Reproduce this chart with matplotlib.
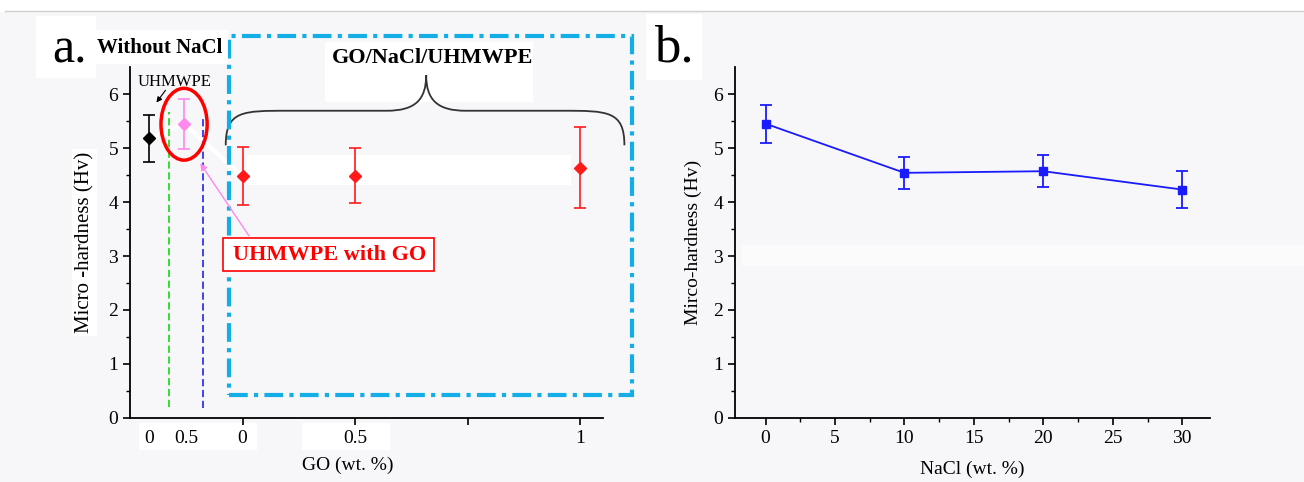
import matplotlib
matplotlib.use('Agg')
import matplotlib.pyplot as plt
from matplotlib.patches import Rectangle, Ellipse, PathPatch
from matplotlib.path import Path
import numpy as np

plt.rcParams['font.family'] = ['Liberation Serif', 'DejaVu Serif']

# panel a: hardness without NaCl (pure, with GO) and GO/NaCl/UHMWPE
pure_x, pure_y, pure_err = [-0.83], [5.18], [0.43]
go_x, go_y, go_err = [-0.52], [5.45], [0.46]
mix_x = [0, 1, 3]
mix_y = [4.48, 4.49, 4.63]
mix_err = [0.53, 0.51, 0.75]
a_tick_pos = [-0.83, -0.5, 0, 1, 3]
a_tick_lab = ['0', '0.5', '0', '0.5', '1']

# panel b: hardness vs NaCl content
nacl = [0, 10, 20, 30]
hard_b = [5.45, 4.54, 4.57, 4.23]
err_b = [0.35, 0.30, 0.30, 0.35]

W, H = 1304, 482
bg = '#f7f7f9'
fig = plt.figure(figsize=(W / 100, H / 100), dpi=100, facecolor='white')

def fbox(x0, y0, x1, y1, color='white', z=0):
    # rectangle in pixel coords of the figure (y down)
    fig.patches.append(Rectangle((x0 / W, 1 - y1 / H), (x1 - x0) / W, (y1 - y0) / H,
                                 transform=fig.transFigure, facecolor=color,
                                 edgecolor='none', zorder=z))

fbox(0, 12, W, H, bg, z=-10)
fig.add_artist(plt.Line2D([5 / W, 1], [1 - 11 / H] * 2, transform=fig.transFigure,
                          color='#cfcfcf', lw=1))
fbox(36, 16, 96, 78)
fbox(96, 30, 228, 64)
fbox(646, 14, 702, 80)
fbox(742, 245, W, 266, '#fbfbfc', z=-5)

ax = fig.add_axes([130 / W, 1 - 418 / H, (603 - 130) / W, (418 - 67) / H])
ax.set_facecolor('none')
ax.set_xlim(-1.0, 3.2)
ax.set_ylim(0, 6.5)
for s in ['top', 'right']:
    ax.spines[s].set_visible(False)
for s in ['left', 'bottom']:
    ax.spines[s].set_linewidth(1.3)
ax.set_yticks(range(7))
ax.set_yticks(np.arange(0.5, 6.5, 1), minor=True)
ax.set_xticks([0, 1, 2, 3])
ax.set_xticklabels([])
ax.tick_params(axis='both', direction='out', length=5, width=1.2, labelsize=14)
ax.tick_params(which='minor', length=3, width=1)
# white patches behind the rewritten tick labels
ax.add_patch(Rectangle((-0.92, -0.59), 1.05, 0.5, facecolor='white', edgecolor='none',
                       clip_on=False, zorder=1))
ax.add_patch(Rectangle((0.53, -0.59), 0.78, 0.5, facecolor='white', edgecolor='none',
                       clip_on=False, zorder=1))
for xp, lab in zip(a_tick_pos, a_tick_lab):
    ax.text(xp, -0.22, lab, ha='center', va='top', fontsize=14, clip_on=False, zorder=2)
ax.set_xlabel('GO (wt. %)', fontsize=14)
ax.xaxis.set_label_coords(0.46, -0.11)
ax.set_ylabel('Micro -hardness (Hv)', fontsize=15, labelpad=10,
              bbox=dict(facecolor='white', edgecolor='none', pad=2))

# white band and white trace of the former connecting line
ax.add_patch(Rectangle((0.04, 4.31), 2.88, 0.56, facecolor='white', edgecolor='none', zorder=1))
ax.plot(pure_x + go_x + mix_x[:1], pure_y + go_y + mix_y[:1], color='white', lw=3, zorder=2)

ax.plot([-0.65, -0.65], [0.2, 5.67], color='#22dd22', lw=1.3, ls=(0, (4, 2)), zorder=3)
ax.plot([-0.35, -0.35], [0.18, 5.6], color='#3333ee', lw=1.3, ls=(0, (4, 2)), zorder=3)

ax.errorbar(pure_x, pure_y, yerr=pure_err, fmt='D', color='black', ms=6, capsize=4,
            elinewidth=1.2, capthick=1.2, zorder=5)
ax.errorbar(go_x, go_y, yerr=go_err, fmt='D', color='#ff88ee', ms=6, capsize=4,
            elinewidth=1.2, capthick=1.2, zorder=5)
ax.errorbar(mix_x, mix_y, yerr=mix_err, fmt='D', color='#ff1a1a', ms=6, capsize=4,
            elinewidth=1.2, capthick=1.2, ls='none', zorder=5)

ax.add_patch(Ellipse((-0.52, 5.44), 0.41, 1.33, fill=False, edgecolor='red', lw=2.5,
                     zorder=6, clip_on=False))

# cyan dash-dot frame round the NaCl samples
ax.add_patch(Rectangle((-0.125, 0.43), 3.585, 6.64, fill=False, edgecolor='#14aee6',
                       lw=3, ls=(0, (4.5, 1.5, 1, 1.5)), clip_on=False, zorder=4))

# white box behind the group title and the brace
ax.add_patch(Rectangle((0.73, 5.86), 1.85, 1.1, facecolor='white', edgecolor='none',
                       clip_on=False, zorder=1))
x0, x1, xc = -0.15, 3.39, 1.63
y0, ya, yt = 5.05, 5.69, 6.35
verts = [(x0, y0), (x0, ya), (x0 + 0.15, ya), (x0 + 0.55, ya),
         (xc - 0.35, ya),
         (xc - 0.1, ya), (xc, ya + 0.2), (xc, yt),
         (xc, ya + 0.2), (xc + 0.1, ya), (xc + 0.35, ya),
         (x1 - 0.55, ya),
         (x1 - 0.15, ya), (x1, ya), (x1, y0)]
codes = [Path.MOVETO, Path.CURVE4, Path.CURVE4, Path.CURVE4, Path.LINETO,
         Path.CURVE4, Path.CURVE4, Path.CURVE4, Path.CURVE4, Path.CURVE4, Path.CURVE4,
         Path.LINETO, Path.CURVE4, Path.CURVE4, Path.CURVE4]
ax.add_patch(PathPatch(Path(verts, codes), fill=False, edgecolor='#333333', lw=1.3,
                       clip_on=False, zorder=3))
ax.text(1.69, 6.67, 'GO/NaCl/UHMWPE', ha='center', va='center', fontsize=16,
        fontweight='bold', zorder=7, clip_on=False)

ax.text(-0.6, 6.22, 'UHMWPE', ha='center', va='center', fontsize=12, zorder=7)
ax.annotate('', xy=(-0.78, 5.8), xytext=(-0.67, 6.11),
            arrowprops=dict(arrowstyle='-|>', color='black', lw=0.8, mutation_scale=8))

ax.add_patch(Rectangle((-0.17, 2.72), 1.87, 0.61, facecolor='white', edgecolor='red',
                       lw=1.2, zorder=6))
ax.text(0.77, 3.02, 'UHMWPE with GO', ha='center', va='center', color='red',
        fontsize=16, fontweight='bold', zorder=7)
ax.annotate('', xy=(-0.39, 4.76), xytext=(0.07, 3.33),
            arrowprops=dict(arrowstyle='-|>', color='#ff88ee', lw=1, mutation_scale=10),
            zorder=6)

fig.text(70 / W, 1 - 50 / H, 'a.', fontsize=36, ha='center', va='center')
fig.text(160 / W, 1 - 48 / H, 'Without NaCl', fontsize=15, fontweight='bold',
         ha='center', va='center')

# panel b
bx = fig.add_axes([735 / W, 1 - 418 / H, (1210 - 735) / W, (418 - 67) / H])
bx.set_facecolor('none')
bx.errorbar(nacl, hard_b, yerr=err_b, fmt='-s', color='#1a1aff', ms=6, lw=1.3,
            capsize=4, elinewidth=1.3, capthick=1.3)
bx.set_xlim(-2.2, 32)
bx.set_ylim(0, 6.5)
for s in ['top', 'right']:
    bx.spines[s].set_visible(False)
for s in ['left', 'bottom']:
    bx.spines[s].set_linewidth(1.3)
bx.set_xticks(range(0, 31, 5))
bx.set_xticks(np.arange(2.5, 31, 5), minor=True)
bx.set_yticks(range(7))
bx.set_yticks(np.arange(0.5, 6.5, 1), minor=True)
bx.tick_params(axis='both', direction='out', length=5, width=1.2, labelsize=14)
bx.tick_params(which='minor', length=3, width=1)
bx.set_xlabel('NaCl (wt. %)', fontsize=14, labelpad=10)
bx.set_ylabel('Mirco-hardness (Hv)', fontsize=14, labelpad=8)
fig.text(674 / W, 1 - 48 / H, 'b.', fontsize=38, ha='center', va='center')

fig.savefig('out.png', dpi=100, facecolor='white')
